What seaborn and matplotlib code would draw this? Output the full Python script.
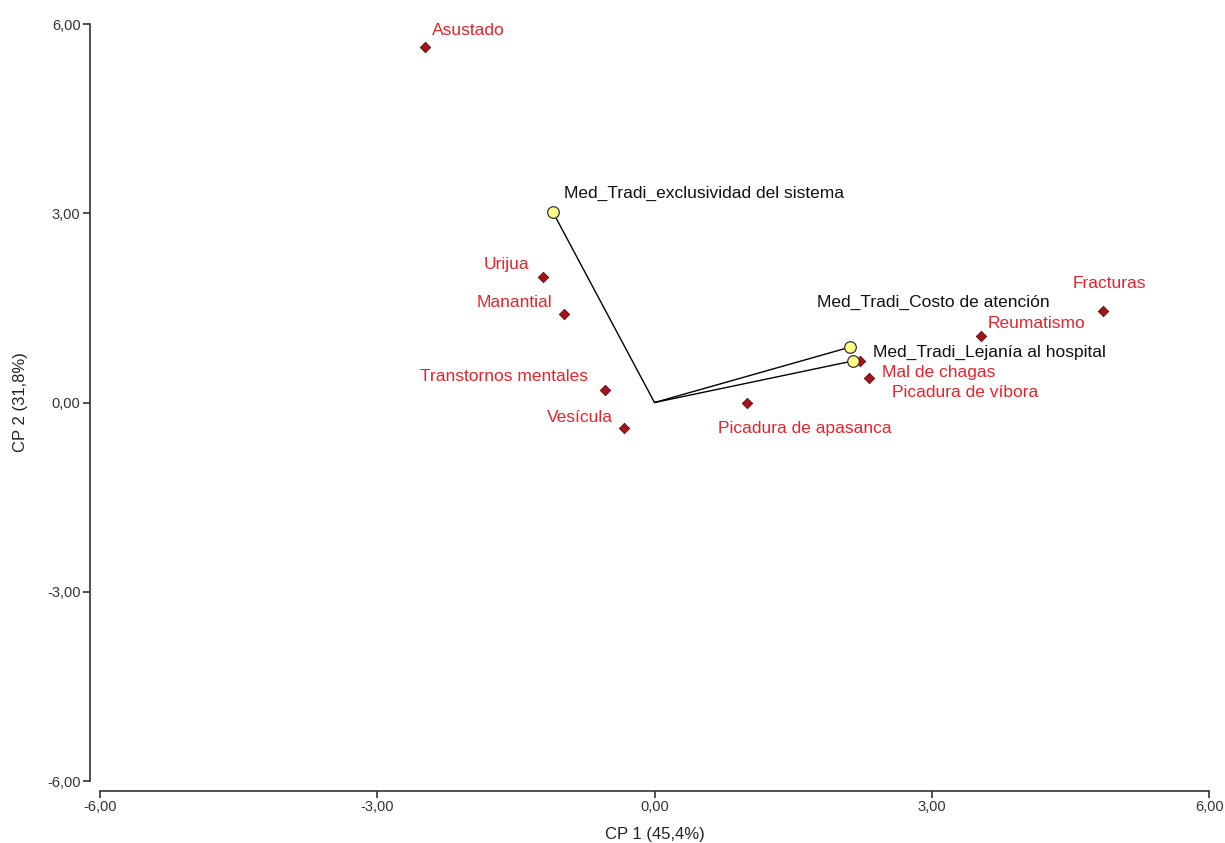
import matplotlib
matplotlib.use('Agg')
import matplotlib.pyplot as plt
import seaborn as sns
import pandas as pd
from matplotlib.ticker import FuncFormatter

# Observation scores (red diamonds)
obs_names = ['Asustado', 'Urijua', 'Manantial', 'Transtornos mentales', 'Vesícula',
             'Picadura de apasanca', 'Mal de chagas', 'Picadura de víbora',
             'Reumatismo', 'Fracturas']
obs_cp1 = [-2.48, -1.21, -0.98, -0.54, -0.33, 1.00, 2.22, 2.32, 3.53, 4.85]
obs_cp2 = [5.63, 1.99, 1.40, 0.20, -0.40, -0.01, 0.66, 0.39, 1.05, 1.45]

# Variable vectors (yellow circles)
var_names = ['Med_Tradi_exclusividad del sistema', 'Med_Tradi_Costo de atención',
             'Med_Tradi_Lejanía al hospital']
var_cp1 = [-1.10, 2.12, 2.15]
var_cp2 = [3.02, 0.88, 0.66]

ticks = [-6, -3, 0, 3, 6]
xlabel = 'CP 1 (45,4%)'
ylabel = 'CP 2 (31,8%)'

# label placement: (dx px, dy px, ha)
obs_offsets = {
    'Asustado': (7, 17, 'left'),
    'Urijua': (-13, 12, 'right'),
    'Manantial': (-12, 12, 'right'),
    'Transtornos mentales': (-17, 13, 'right'),
    'Vesícula': (-11, 10, 'right'),
    'Picadura de apasanca': (-29, -25, 'left'),
    'Mal de chagas': (22, -12, 'left'),
    'Picadura de víbora': (23, -15, 'left'),
    'Reumatismo': (7, 13, 'left'),
    'Fracturas': (-30, 28, 'left'),
}
var_offsets = [(11, 19, 'left'), (-33, 45, 'left'), (20, 8, 'left')]

sns.set_theme(style='white')
plt.rcParams['font.family'] = ['Liberation Sans', 'DejaVu Sans']

obs = pd.DataFrame({'name': obs_names, 'cp1': obs_cp1, 'cp2': obs_cp2})
var = pd.DataFrame({'name': var_names, 'cp1': var_cp1, 'cp2': var_cp2})

fig = plt.figure(figsize=(12.25, 8.43), dpi=100)
ax = fig.add_axes([0.0816, 0.0735, 0.9054, 0.898])

for x, y in zip(var['cp1'], var['cp2']):
    ax.plot([0, x], [0, y], color='black', lw=1.0, zorder=1)

sns.scatterplot(data=obs, x='cp1', y='cp2', ax=ax, marker='D', s=28,
                color='#a3141c', edgecolor='#5a0a0e', linewidth=0.6, zorder=2)
sns.scatterplot(data=var, x='cp1', y='cp2', ax=ax, marker='o', s=70,
                color='#ffff88', edgecolor='#333333', linewidth=0.9, zorder=3)

px = 72 / fig.dpi
for _, r in obs.iterrows():
    dx, dy, ha = obs_offsets[r['name']]
    ax.annotate(r['name'], (r['cp1'], r['cp2']), xytext=(dx * px, dy * px),
                textcoords='offset points', ha=ha, va='center',
                color='#e8232b', fontsize=12.5)
for (_, r), (dx, dy, ha) in zip(var.iterrows(), var_offsets):
    ax.annotate(r['name'], (r['cp1'], r['cp2']), xytext=(dx * px, dy * px),
                textcoords='offset points', ha=ha, va='center',
                color='#111111', fontsize=12.5)

ax.set_xlim(-6, 6)
ax.set_ylim(-6, 6)
ax.set_xticks(ticks)
ax.set_yticks(ticks)
fmt = FuncFormatter(lambda v, p: f'{v:.2f}'.replace('.', ','))
ax.xaxis.set_major_formatter(fmt)
ax.yaxis.set_major_formatter(fmt)
ax.tick_params(axis='both', direction='out', length=5, width=1.2, color='#333333',
               labelsize=10.5, labelcolor='#333333', left=True, bottom=True, pad=2)
ax.set_xlabel(xlabel, fontsize=12, color='#222222', va='center')
ax.set_ylabel(ylabel, fontsize=12, color='#222222', va='center')
ax.xaxis.set_label_coords(0.5, -0.071)
ax.yaxis.set_label_coords(-0.072, 0.5)

sns.despine(ax=ax, offset=7, trim=True)
for s in ['left', 'bottom']:
    ax.spines[s].set_color('#333333')
    ax.spines[s].set_linewidth(1.2)

fig.savefig('out.png', dpi=100)
